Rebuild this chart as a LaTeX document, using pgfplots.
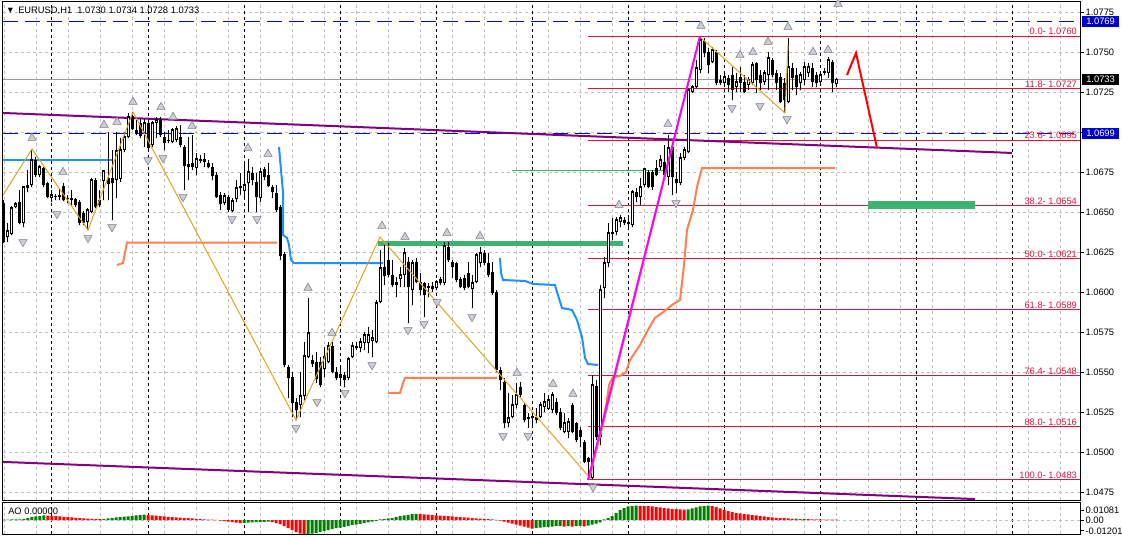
\documentclass[border=0pt]{standalone}
\usepackage{pgfplots}
\usepackage{pgfplotstable}
\pgfplotsset{compat=1.18}
\usepackage{fontspec}
\setmainfont{Liberation Sans}
\newfontfamily\dejavu{DejaVu Sans}
\newcommand{\lbl}{\fontsize{7}{8}\selectfont}
\definecolor{mtgrid}{RGB}{192,192,192}
\definecolor{fibred}{RGB}{220,20,60}
\definecolor{trendpurple}{RGB}{128,0,128}
\definecolor{dodger}{RGB}{30,144,255}
\definecolor{coralc}{RGB}{255,127,80}
\definecolor{seagr}{RGB}{60,179,113}
\definecolor{zig}{RGB}{218,165,32}
\definecolor{mag}{RGB}{255,0,255}
\definecolor{bluedash}{RGB}{0,0,225}
\definecolor{boxblue}{RGB}{0,0,205}
\definecolor{aogreen}{RGB}{0,128,0}
\definecolor{aored}{RGB}{255,0,0}
\definecolor{fracfill}{RGB}{205,205,212}
\definecolor{fracdraw}{RGB}{125,125,135}

\pgfplotstableread{
i o h l c
1 1.06556 1.06575 1.06306 1.06313
2 1.06344 1.06431 1.06313 1.06381
3 1.06363 1.06538 1.06356 1.06525
4 1.06531 1.06563 1.06525 1.06550
5 1.06563 1.06638 1.06425 1.06431
6 1.06431 1.06663 1.06406 1.06656
7 1.06669 1.06763 1.06625 1.06650
8 1.06669 1.06888 1.06656 1.06825
9 1.06825 1.06844 1.06719 1.06731
10 1.06731 1.06794 1.06719 1.06781
11 1.06775 1.06781 1.06656 1.06669
12 1.06681 1.06688 1.06588 1.06594
13 1.06588 1.06638 1.06563 1.06606
14 1.06600 1.06613 1.06575 1.06594
15 1.06594 1.06650 1.06575 1.06600
16 1.06663 1.06681 1.06569 1.06575
17 1.06588 1.06606 1.06556 1.06581
18 1.06575 1.06638 1.06544 1.06581
19 1.06581 1.06588 1.06531 1.06544
20 1.06563 1.06575 1.06419 1.06431
21 1.06494 1.06506 1.06419 1.06431
22 1.06438 1.06525 1.06388 1.06513
23 1.06500 1.06713 1.06494 1.06700
24 1.06700 1.06713 1.06525 1.06531
25 1.06575 1.06638 1.06531 1.06544
26 1.06694 1.06763 1.06575 1.06756
27 1.06713 1.07000 1.06575 1.06675
28 1.06713 1.06888 1.06450 1.06681
29 1.06700 1.07000 1.06588 1.06881
30 1.06706 1.06963 1.06688 1.06888
31 1.06888 1.07000 1.06875 1.06969
32 1.06969 1.07119 1.06963 1.07094
33 1.07100 1.07125 1.07013 1.07019
34 1.07013 1.07075 1.06981 1.06994
35 1.07056 1.07081 1.06963 1.06975
36 1.06994 1.07081 1.06906 1.07056
37 1.07056 1.07063 1.06888 1.06900
38 1.06919 1.07069 1.06906 1.07056
39 1.07056 1.07094 1.06963 1.07075
40 1.07075 1.07094 1.06969 1.06981
41 1.06969 1.07000 1.06888 1.06931
42 1.06950 1.07013 1.06931 1.06947
43 1.06938 1.07025 1.06931 1.07013
44 1.06950 1.07038 1.06938 1.07019
45 1.06969 1.07044 1.06906 1.06919
46 1.06906 1.06919 1.06638 1.06788
47 1.06800 1.06969 1.06700 1.06781
48 1.06806 1.06981 1.06763 1.06781
49 1.06775 1.06869 1.06731 1.06831
50 1.06831 1.06856 1.06806 1.06819
51 1.06831 1.06869 1.06781 1.06813
52 1.06806 1.06825 1.06775 1.06781
53 1.06781 1.06806 1.06700 1.06725
54 1.06731 1.06750 1.06588 1.06594
55 1.06606 1.06625 1.06513 1.06550
56 1.06556 1.06619 1.06544 1.06600
57 1.06594 1.06606 1.06500 1.06513
58 1.06506 1.06588 1.06500 1.06569
59 1.06581 1.06700 1.06563 1.06650
60 1.06650 1.06744 1.06606 1.06656
61 1.06631 1.06806 1.06594 1.06669
62 1.06681 1.06831 1.06500 1.06750
63 1.06744 1.06781 1.06669 1.06700
64 1.06688 1.06744 1.06500 1.06594
65 1.06588 1.06775 1.06563 1.06750
66 1.06769 1.06781 1.06700 1.06719
67 1.06731 1.06806 1.06656 1.06663
68 1.06656 1.06669 1.06588 1.06625
69 1.06619 1.06669 1.06500 1.06513
70 1.06531 1.06544 1.06200 1.06225
71 1.06238 1.06250 1.05531 1.05544
72 1.05531 1.05544 1.05338 1.05463
73 1.05469 1.05500 1.05219 1.05306
74 1.05313 1.05338 1.05200 1.05263
75 1.05294 1.05500 1.05219 1.05350
76 1.05350 1.05688 1.05325 1.05600
77 1.05594 1.05963 1.05588 1.05744
78 1.05575 1.05606 1.05531 1.05550
79 1.05563 1.05625 1.05431 1.05456
80 1.05563 1.05594 1.05406 1.05419
81 1.05519 1.05656 1.05469 1.05594
82 1.05563 1.05688 1.05556 1.05663
83 1.05663 1.05688 1.05494 1.05500
84 1.05500 1.05531 1.05450 1.05463
85 1.05488 1.05531 1.05431 1.05463
86 1.05481 1.05500 1.05406 1.05450
87 1.05463 1.05594 1.05450 1.05581
88 1.05594 1.05688 1.05588 1.05663
89 1.05663 1.05688 1.05638 1.05650
90 1.05650 1.05713 1.05625 1.05688
91 1.05681 1.05750 1.05638 1.05731
92 1.05681 1.05781 1.05619 1.05731
93 1.05694 1.05763 1.05594 1.05713
94 1.05688 1.05950 1.05681 1.05931
95 1.05938 1.06263 1.05931 1.06150
96 1.06156 1.06294 1.06044 1.06100
97 1.06200 1.06306 1.06094 1.06106
98 1.06106 1.06200 1.06031 1.06044
99 1.06063 1.06094 1.05969 1.06044
100 1.06081 1.06156 1.06031 1.06106
101 1.06106 1.06275 1.06031 1.06244
102 1.06188 1.06219 1.05806 1.06031
103 1.06013 1.06200 1.05919 1.06181
104 1.06188 1.06213 1.06056 1.06063
105 1.06063 1.06119 1.05981 1.06013
106 1.06056 1.06063 1.05844 1.05981
107 1.06025 1.06056 1.05969 1.06031
108 1.06019 1.06063 1.06000 1.06031
109 1.06025 1.06075 1.06013 1.06063
110 1.06081 1.06094 1.06044 1.06056
111 1.06056 1.06313 1.06044 1.06288
112 1.06281 1.06313 1.06188 1.06200
113 1.06188 1.06200 1.06088 1.06156
114 1.06181 1.06188 1.06063 1.06075
115 1.06081 1.06094 1.06025 1.06031
116 1.06088 1.06106 1.06013 1.06025
117 1.06119 1.06188 1.06025 1.06031
118 1.06019 1.06106 1.05900 1.06056
119 1.06063 1.06244 1.06056 1.06231
120 1.06181 1.06281 1.06156 1.06244
121 1.06244 1.06263 1.06169 1.06181
122 1.06181 1.06244 1.06094 1.06106
123 1.06125 1.06188 1.05981 1.05994
124 1.06000 1.06013 1.05500 1.05513
125 1.05513 1.05531 1.05388 1.05450
126 1.05438 1.05463 1.05150 1.05181
127 1.05181 1.05369 1.05156 1.05213
128 1.05219 1.05356 1.05213 1.05294
129 1.05294 1.05431 1.05275 1.05356
130 1.05406 1.05438 1.05344 1.05356
131 1.05294 1.05306 1.05188 1.05200
132 1.05219 1.05244 1.05150 1.05206
133 1.05213 1.05244 1.05156 1.05219
134 1.05219 1.05275 1.05181 1.05200
135 1.05219 1.05313 1.05213 1.05294
136 1.05281 1.05369 1.05250 1.05313
137 1.05269 1.05356 1.05263 1.05325
138 1.05263 1.05375 1.05244 1.05356
139 1.05313 1.05338 1.05231 1.05244
140 1.05250 1.05275 1.05138 1.05150
141 1.05125 1.05244 1.05119 1.05181
142 1.05125 1.05213 1.05088 1.05188
143 1.05294 1.05306 1.05119 1.05125
144 1.05181 1.05188 1.05063 1.05075
145 1.05138 1.05156 1.05031 1.05094
146 1.05063 1.05075 1.04931 1.04938
147 1.04963 1.04969 1.04838 1.04938
148 1.04838 1.05481 1.04831 1.05419
149 1.05413 1.05450 1.05075 1.05094
150 1.05094 1.06044 1.05044 1.06013
151 1.06025 1.06219 1.05963 1.06181
152 1.06181 1.06431 1.06156 1.06369
153 1.06375 1.06463 1.06325 1.06363
154 1.06375 1.06469 1.06356 1.06450
155 1.06438 1.06481 1.06406 1.06463
156 1.06450 1.06469 1.06419 1.06431
157 1.06425 1.06463 1.06400 1.06431
158 1.06419 1.06638 1.06406 1.06625
159 1.06625 1.06650 1.06563 1.06594
160 1.06594 1.06713 1.06544 1.06656
161 1.06669 1.06775 1.06656 1.06769
162 1.06750 1.06763 1.06650 1.06656
163 1.06750 1.06763 1.06638 1.06656
164 1.06775 1.06825 1.06725 1.06731
165 1.06781 1.06856 1.06763 1.06825
166 1.06813 1.06919 1.06713 1.06731
167 1.06719 1.06981 1.06669 1.06900
168 1.06906 1.06938 1.06606 1.06719
169 1.06706 1.06750 1.06619 1.06681
170 1.06681 1.06869 1.06669 1.06838
171 1.06838 1.06906 1.06825 1.06888
172 1.06875 1.07275 1.06869 1.07263
173 1.07250 1.07294 1.07244 1.07281
174 1.07281 1.07450 1.07275 1.07400
175 1.07388 1.07600 1.07369 1.07575
176 1.07569 1.07588 1.07469 1.07494
177 1.07500 1.07525 1.07369 1.07419
178 1.07438 1.07531 1.07431 1.07513
179 1.07500 1.07513 1.07294 1.07306
180 1.07325 1.07356 1.07294 1.07306
181 1.07306 1.07369 1.07281 1.07344
182 1.07338 1.07356 1.07250 1.07294
183 1.07356 1.07406 1.07200 1.07263
184 1.07281 1.07369 1.07250 1.07313
185 1.07344 1.07406 1.07250 1.07306
186 1.07313 1.07356 1.07244 1.07250
187 1.07294 1.07344 1.07263 1.07325
188 1.07306 1.07438 1.07294 1.07419
189 1.07431 1.07438 1.07244 1.07325
190 1.07356 1.07388 1.07263 1.07306
191 1.07313 1.07388 1.07294 1.07369
192 1.07356 1.07500 1.07263 1.07463
193 1.07450 1.07463 1.07344 1.07356
194 1.07369 1.07388 1.07263 1.07306
195 1.07344 1.07369 1.07181 1.07188
196 1.07306 1.07338 1.07125 1.07200
197 1.07188 1.07588 1.07181 1.07406
198 1.07400 1.07431 1.07263 1.07338
199 1.07356 1.07400 1.07231 1.07281
200 1.07306 1.07375 1.07263 1.07356
201 1.07325 1.07438 1.07294 1.07406
202 1.07369 1.07431 1.07344 1.07406
203 1.07400 1.07431 1.07281 1.07313
204 1.07356 1.07375 1.07281 1.07306
205 1.07313 1.07375 1.07294 1.07356
206 1.07369 1.07400 1.07356 1.07375
207 1.07369 1.07469 1.07338 1.07450
208 1.07438 1.07450 1.07250 1.07306
209 1.07300 1.07340 1.07280 1.07330
}\candles

\pgfplotstableread{
i v g
1 0.0004 1
2 0.0005 1
3 0.0006 1
4 0.0007 1
5 0.0008 1
6 0.0010 1
7 0.0022 1
8 0.0033 1
9 0.0039 1
10 0.0044 1
11 0.0050 1
12 0.0048 0
13 0.0046 0
14 0.0044 0
15 0.0039 0
16 0.0035 0
17 0.0033 0
18 0.0028 0
19 0.0024 0
20 0.0022 0
21 0.0018 0
22 0.0015 0
23 0.0013 0
24 0.0011 0
25 0.0009 0
26 0.0011 1
27 0.0017 1
28 0.0022 1
29 0.0028 1
30 0.0033 1
31 0.0037 1
32 0.0040 1
33 0.0044 1
34 0.0050 1
35 0.0055 1
36 0.0060 1
37 0.0056 0
38 0.0052 0
39 0.0048 0
40 0.0044 0
41 0.0039 0
42 0.0035 0
43 0.0032 0
44 0.0028 0
45 0.0026 0
46 0.0022 0
47 0.0020 0
48 0.0017 0
49 0.0013 0
50 0.0011 0
51 0.0008 0
52 0.0005 0
53 0.0003 0
54 0.0002 0
55 -0.0006 0
56 -0.0011 0
57 -0.0017 0
58 -0.0022 0
59 -0.0028 0
60 -0.0033 0
61 -0.0031 1
62 -0.0029 1
63 -0.0027 1
64 -0.0024 1
65 -0.0022 1
66 -0.0020 1
67 -0.0017 1
68 -0.0022 0
69 -0.0033 0
70 -0.0044 0
71 -0.0066 0
72 -0.0088 0
73 -0.0110 0
74 -0.0132 0
75 -0.0149 0
76 -0.0156 0
77 -0.0152 1
78 -0.0149 1
79 -0.0143 1
80 -0.0132 1
81 -0.0121 1
82 -0.0110 1
83 -0.0099 1
84 -0.0090 1
85 -0.0083 1
86 -0.0075 1
87 -0.0066 1
88 -0.0057 1
89 -0.0050 1
90 -0.0042 1
91 -0.0033 1
92 -0.0025 1
93 -0.0018 1
94 -0.0010 1
95 0.0006 1
96 0.0011 1
97 0.0017 1
98 0.0022 1
99 0.0033 1
100 0.0042 1
101 0.0050 1
102 0.0057 1
103 0.0064 1
104 0.0068 1
105 0.0065 0
106 0.0062 0
107 0.0058 0
108 0.0055 0
109 0.0052 0
110 0.0048 0
111 0.0045 0
112 0.0042 0
113 0.0039 0
114 0.0035 0
115 0.0032 0
116 0.0029 0
117 0.0025 0
118 0.0022 0
119 0.0019 0
120 0.0015 0
121 0.0012 0
122 0.0009 0
123 0.0006 0
124 0.0002 0
125 -0.0006 0
126 -0.0017 0
127 -0.0028 0
128 -0.0039 0
129 -0.0050 0
130 -0.0061 0
131 -0.0072 0
132 -0.0083 0
133 -0.0094 0
134 -0.0088 1
135 -0.0083 1
136 -0.0077 1
137 -0.0075 1
138 -0.0072 1
139 -0.0068 1
140 -0.0066 1
141 -0.0072 0
142 -0.0068 1
143 -0.0073 0
144 -0.0067 1
145 -0.0064 1
146 -0.0069 0
147 -0.0061 1
148 -0.0050 1
149 -0.0039 1
150 -0.0025 1
151 0.0006 1
152 0.0022 1
153 0.0044 1
154 0.0077 1
155 0.0110 1
156 0.0132 1
157 0.0149 1
158 0.0154 1
159 0.0157 1
160 0.0156 0
161 0.0154 0
162 0.0152 0
163 0.0149 0
164 0.0143 0
165 0.0138 0
166 0.0132 0
167 0.0127 0
168 0.0121 0
169 0.0119 0
170 0.0116 0
171 0.0113 0
172 0.0117 1
173 0.0127 1
174 0.0138 1
175 0.0149 1
176 0.0154 1
177 0.0157 1
178 0.0154 0
179 0.0143 0
180 0.0127 0
181 0.0110 0
182 0.0099 0
183 0.0088 0
184 0.0077 0
185 0.0072 0
186 0.0066 0
187 0.0061 0
188 0.0055 0
189 0.0050 0
190 0.0044 0
191 0.0039 0
192 0.0033 0
193 0.0028 0
194 0.0024 0
195 0.0022 0
196 0.0020 0
197 0.0017 0
198 0.0013 0
199 0.0014 1
200 0.0011 0
201 0.0012 1
202 0.0010 0
203 0.0008 0
204 0.0007 0
205 0.0006 0
206 0.0005 0
207 0.0004 0
208 0.0004 0
209 0.0003 0
}\ao

\pgfplotsset{
  mtframe/.style={
    scale only axis, width=807.75pt,
    xmin=3, xmax=1080,
    axis line style={black, line width=0.75pt},
    clip mode=individual,
    scaled y ticks=false,
    xtick={4.7,36.7,...,1060.7}, xticklabels={},
    xmajorgrids=true,
    major x tick style={draw=none},
    extra x ticks={52,148,244,340,436,532,628,724,820,916,1012},
    extra x tick labels={},
    extra x tick style={xmajorgrids=true, major tick length=0pt,
      major grid style={black, line width=0.75pt, dash pattern=on 2.25pt off 2.25pt}},
    major grid style={mtgrid, line width=0.75pt, dash pattern=on 2.25pt off 2.25pt},
    ytick pos=right, yticklabel pos=right,
    tick align=outside, major tick length=3pt,
    major y tick style={black, line width=0.75pt},
    yticklabel style={font=\lbl, text=black, inner sep=1pt, anchor=west},
  },
  fibline/.style={fibred, line width=0.75pt, forget plot},
  cndl/.style={only marks, mark=*, mark size=0.01pt, mark options={draw=none, fill=none}, forget plot},
  fracup/.style={only marks, mark=triangle*, mark size=3.6pt, mark options={fill=fracfill, draw=fracdraw, line width=0.4pt}, forget plot},
  fracdn/.style={only marks, mark=triangle*, mark size=3.6pt, mark options={rotate=180, fill=fracfill, draw=fracdraw, line width=0.4pt}, forget plot},
}
\tikzset{fiblab/.style={anchor=south east, text=fibred, font=\lbl, inner sep=0.6pt}}

\begin{document}
\begin{tikzpicture}
\useasboundingbox (0pt,0pt) rectangle (841.5pt,-402pt);
\begin{axis}[mtframe,
  at={(2.25pt,-0.75pt)}, anchor=north west, height=374.25pt,
  ymin=1.047, ymax=1.0781875,
  ytick={1.0475,1.05,1.0525,1.055,1.0575,1.06,1.0625,1.065,1.0675,1.07,1.0725,1.075,1.0775},
  yticklabels={1.0475,1.0500,1.0525,1.0550,1.0575,1.0600,1.0625,1.0650,1.0675,{},1.0725,1.0750,1.0775},
  ymajorgrids=true,
]
% horizontal reference lines
\addplot[mtgrid!80!black, line width=0.75pt, forget plot] coordinates {(3,1.0733) (1080,1.0733)};
\addplot[bluedash, line width=0.85pt, dash pattern=on 11.25pt off 5.25pt, forget plot] coordinates {(3,1.0769) (1080,1.0769)};
\addplot[bluedash, line width=0.85pt, dash pattern=on 11.25pt off 5.25pt, forget plot] coordinates {(3,1.0699) (1080,1.0699)};
% fibonacci levels
\addplot[fibline] coordinates {(588,1.0760) (1080,1.0760)};
\addplot[fibline] coordinates {(588,1.0727) (1080,1.0727)};
\addplot[fibline] coordinates {(588,1.0695) (1080,1.0695)};
\addplot[fibline] coordinates {(588,1.0654) (1080,1.0654)};
\addplot[fibline] coordinates {(588,1.0621) (1080,1.0621)};
\addplot[fibline] coordinates {(588,1.0589) (1080,1.0589)};
\addplot[fibline] coordinates {(588,1.0548) (1080,1.0548)};
\addplot[fibline] coordinates {(588,1.0516) (1080,1.0516)};
\addplot[fibline] coordinates {(588,1.0483) (1080,1.0483)};
% green zones
\addplot[seagr, line width=3.75pt, forget plot] coordinates {(378,1.06304) (623,1.06304)};
\addplot[seagr, line width=6pt, forget plot] coordinates {(868,1.06544) (975,1.06544)};
\addplot[seagr, line width=0.9pt, forget plot] coordinates {(512,1.06758) (672,1.06758)};
% purple trend lines
\addplot[trendpurple, line width=1.5pt, forget plot] coordinates {(3,1.07119) (1012,1.06869)};
\addplot[trendpurple, line width=1.5pt, forget plot] coordinates {(3,1.04938) (975,1.04706)};
% coral stepped line
\addplot[coralc, line width=1.5pt, forget plot] coordinates {(117,1.06169) (123,1.06181) (127,1.06309) (277,1.06309)};
\addplot[coralc, line width=1.5pt, forget plot] coordinates {(388,1.05369) (400,1.05369) (403,1.05431) (405,1.05463) (497,1.05463)};
\addplot[coralc, line width=1.5pt, forget plot] coordinates {(602,1.05138) (607,1.05325) (609,1.05419) (613,1.05469) (620,1.05475) (626,1.05500) (630,1.05575) (640,1.05669) (648,1.05763) (655,1.05838) (662,1.05869) (672,1.05919) (680,1.05950) (684,1.06169) (687,1.06388) (693,1.06513) (697,1.06656) (702,1.06775) (835,1.06775)};
% blue stepped line
\addplot[dodger, line width=1.5pt, forget plot] coordinates {(3,1.06822) (113,1.06822)};
\addplot[dodger, line width=1.5pt, forget plot] coordinates {(279,1.06906) (281,1.06763) (283,1.06625) (283,1.06356) (287,1.06338) (289,1.06294) (291,1.06200) (294,1.06181) (383,1.06181)};
\addplot[dodger, line width=1.5pt, forget plot] coordinates {(500,1.06213) (501,1.06119) (503,1.06075) (525,1.06069) (533,1.06050) (555,1.06044) (557,1.06000) (562,1.05900) (572,1.05888) (577,1.05825) (582,1.05719) (585,1.05588) (588,1.05550) (598,1.05544)};
% candles: wicks
\addplot[cndl, error bars/.cd, y dir=plus, y explicit, error mark=none,
  error bar style={draw=black, line width=0.75pt}]
  table[x expr=4*\thisrow{i}, y=l, y error expr=\thisrow{h}-\thisrow{l}] {\candles};
% bearish bodies
\addplot[cndl, restrict expr to domain={\thisrow{o}-\thisrow{c}}{0.000001:1},
  error bars/.cd, y dir=plus, y explicit, error mark=none,
  error bar style={draw=black, line width=2.25pt}]
  table[x expr=4*\thisrow{i}, y=c, y error expr=\thisrow{o}-\thisrow{c}] {\candles};
% bullish bodies (outline)
\addplot[cndl, restrict expr to domain={\thisrow{c}-\thisrow{o}}{0:1},
  error bars/.cd, y dir=plus, y explicit, error mark=none,
  error bar style={draw=black, line width=2.25pt}]
  table[x expr=4*\thisrow{i}, y=o, y error expr=\thisrow{c}-\thisrow{o}+0.00004] {\candles};
% bullish bodies (hollow interior)
\addplot[cndl, restrict expr to domain={\thisrow{c}-\thisrow{o}}{0.00013:1},
  error bars/.cd, y dir=plus, y explicit, error mark=none,
  error bar style={draw=white, line width=0.75pt}]
  table[x expr=4*\thisrow{i}, y expr=\thisrow{o}+0.0000625, y error expr=\thisrow{c}-\thisrow{o}-0.000125] {\candles};
% zigzag and swing line
\addplot[zig, line width=0.75pt, forget plot] coordinates {(3,1.06606) (32,1.06894) (88,1.06388) (133,1.07125) (296,1.05200) (380,1.06344) (590,1.04838) (700,1.07594) (785,1.07119) (788,1.07544)};
\addplot[mag, line width=1.5pt, forget plot] coordinates {(588,1.04825) (700,1.07600)};
\addplot[red, line width=1.5pt, forget plot] coordinates {(847,1.07356) (856,1.07494) (877,1.06900)};
% fractals
\addplot[fracup] coordinates {
(32,1.06963) (63,1.06750) (104,1.07044) (117,1.07063) (133,1.07188) (161,1.07156) (173,1.07094) (192,1.07038)
(248,1.06900) (268,1.06863) (308,1.06025) (332,1.05744) (382,1.06413) (405,1.06344) (447,1.06369) (480,1.06350)
(517,1.05494) (553,1.05425) (573,1.05363) (619,1.06544) (668,1.07050) (701,1.07663) (740,1.07481) (753,1.07500)
(768,1.07563) (788,1.07656) (813,1.07500) (828,1.07513) (838,1.07800)};
\addplot[fracdn] coordinates {
(23,1.06313) (57,1.06488) (88,1.06338) (112,1.06406) (148,1.06825) (163,1.06838) (183,1.06594) (232,1.06456)
(257,1.06456) (296,1.05150) (317,1.05313) (345,1.05369) (372,1.05544) (408,1.05763) (424,1.05800) (437,1.05938)
(472,1.05844) (503,1.05100) (528,1.05100) (593,1.04781) (676,1.06556) (732,1.07150) (760,1.07163) (787,1.07081)};
% fib labels
\node[fiblab] at (axis cs:1078,1.0760) {0.0- 1.0760};
\node[fiblab] at (axis cs:1078,1.0727) {11.8- 1.0727};
\node[fiblab] at (axis cs:1078,1.0695) {23.6- 1.0695};
\node[fiblab] at (axis cs:1078,1.0654) {38.2- 1.0654};
\node[fiblab] at (axis cs:1078,1.0621) {50.0- 1.0621};
\node[fiblab] at (axis cs:1078,1.0589) {61.8- 1.0589};
\node[fiblab] at (axis cs:1078,1.0548) {76.4- 1.0548};
\node[fiblab] at (axis cs:1078,1.0516) {88.0- 1.0516};
\node[fiblab] at (axis cs:1078,1.0483) {100.0- 1.0483};
% price boxes on the scale
\node[anchor=west, fill=boxblue, text=white, font=\lbl, inner xsep=3.4pt, inner ysep=1.5pt] at (axis cs:1081.5,1.0769) {1.0769};
\node[anchor=west, fill=black, text=white, font=\lbl, inner xsep=3.4pt, inner ysep=1.5pt] at (axis cs:1081.5,1.0733) {1.0733};
\node[anchor=west, fill=boxblue, text=white, font=\lbl, inner xsep=3.4pt, inner ysep=1.5pt] at (axis cs:1081.5,1.0699) {1.0699};
% title
\node[font=\dejavu\fontsize{5}{6}\selectfont, inner sep=0pt] at (axis cs:10.5,1.07756) {▼};
\node[anchor=west, font=\lbl, inner sep=0pt] at (axis cs:18,1.07756) {EURUSD,H1\ \ 1.0730 1.0734 1.0728 1.0733};
\end{axis}

\begin{axis}[mtframe,
  at={(2.25pt,-376.5pt)}, anchor=north west, height=24pt,
  ymin=-0.0154, ymax=0.0198,
  ytick={-0.01201,0,0.01081},
  yticklabels={-0.01201,0.00,0.01081},
  ymajorgrids=false,
]
\addplot[mtgrid, line width=0.75pt, dash pattern=on 2.25pt off 2.25pt, forget plot] coordinates {(3,0) (1080,0)};
\addplot[ybar, bar width=2.25pt, bar shift=0pt, fill=aogreen, draw=none, forget plot,
  restrict expr to domain={\thisrow{g}}{0.5:1.5}] table[x expr=4*\thisrow{i}, y=v] {\ao};
\addplot[ybar, bar width=2.25pt, bar shift=0pt, fill=aored, draw=none, forget plot,
  restrict expr to domain={\thisrow{g}}{-0.5:0.5}] table[x expr=4*\thisrow{i}, y=v] {\ao};
\node[anchor=west, font=\lbl, inner sep=0pt] at (axis cs:8,0.0099) {AO 0.00000};
\end{axis}
\end{tikzpicture}
\end{document}
